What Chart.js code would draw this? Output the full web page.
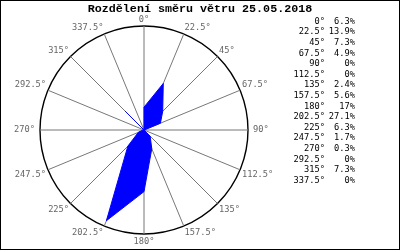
<!DOCTYPE html>
<html>
<head>
<meta charset="utf-8">
<title>Rozdělení směru větru</title>
<style>
  html, body { margin: 0; padding: 0; background: #fff; }
  #wrap { width: 400px; height: 250px; }
</style>
<script src="https://cdn.jsdelivr.net/npm/chart.js@4"></script>
</head>
<body>
<div id="wrap"><canvas id="rose" width="400" height="250"></canvas></div>
<script>
// wind direction (degrees) and share of measurements (%)
const directions = [0, 22.5, 45, 67.5, 90, 112.5, 135, 157.5, 180, 202.5, 225, 247.5, 270, 292.5, 315, 337.5];
const shares = [6.3, 13.9, 7.3, 4.9, 0, 0, 2.4, 5.6, 17, 27.1, 6.3, 1.7, 0.3, 0, 7.3, 0];
const dirLabels = directions.map(d => d + '°');
const shareLabels = shares.map(v => v + '%');
const titleText = 'Rozdělení směru větru 25.05.2018';
const rMax = 28.7;

const smallFont = '8.7px "DejaVu Sans Mono", monospace';

// title, frame, point labels and the table on the right
const extras = {
  id: 'extras',
  afterDraw(chart) {
    const ctx = chart.ctx;
    const scale = chart.scales.r;
    ctx.save();

    ctx.strokeStyle = '#000';
    ctx.lineWidth = 1;
    ctx.strokeRect(0.5, 0.5, 399, 249);

    ctx.fillStyle = '#000';
    ctx.font = 'bold 11.7px "Liberation Mono", monospace';
    ctx.textAlign = 'center';
    ctx.textBaseline = 'middle';
    ctx.fillText(titleText, 200, 9);

    // labels round the circle
    ctx.font = smallFont;
    ctx.fillStyle = '#666';
    dirLabels.forEach((lbl, i) => {
      const p = scale.getPointPosition(i, scale.drawingArea + 2);
      const a = directions[i];
      let align = 'center', base = 'middle';
      if (a > 0 && a < 180) align = 'left';
      if (a > 180) align = 'right';
      if (a < 90 || a > 270) base = 'bottom';
      if (a > 90 && a < 270) base = 'top';
      let x = p.x, y = p.y;
      if (a === 90) x += 3;
      if (a === 270) x -= 3;
      if (a === 180) y += 1;
      ctx.textAlign = align;
      ctx.textBaseline = base;
      ctx.fillText(lbl, x, y);
    });

    // table
    ctx.fillStyle = '#000';
    ctx.textBaseline = 'middle';
    dirLabels.forEach((lbl, i) => {
      const y = 21.5 + i * 10.6;
      ctx.textAlign = 'right';
      ctx.fillText(lbl, 325, y);
      ctx.fillText(shareLabels[i], 355, y);
    });
    ctx.restore();
  }
};

new Chart(document.getElementById('rose'), {
  type: 'radar',
  data: {
    labels: dirLabels,
    datasets: [{
      data: shares,
      backgroundColor: '#0000ff',
      borderColor: '#0000ff',
      borderWidth: 1,
      pointRadius: 0,
      tension: 0,
      fill: true
    }]
  },
  options: {
    responsive: false,
    animation: false,
    devicePixelRatio: 1,
    layout: { padding: { left: 40, right: 152, top: 26, bottom: 16 } },
    plugins: {
      legend: { display: false },
      title: { display: false },
      tooltip: { enabled: false }
    },
    scales: {
      r: {
        min: 0,
        max: rMax,
        ticks: { display: false, stepSize: rMax },
        grid: { circular: true, color: '#000', lineWidth: 1.4 },
        angleLines: { color: '#777', lineWidth: 1 },
        pointLabels: { display: false }
      }
    }
  },
  plugins: [extras]
});
</script>
</body>
</html>
